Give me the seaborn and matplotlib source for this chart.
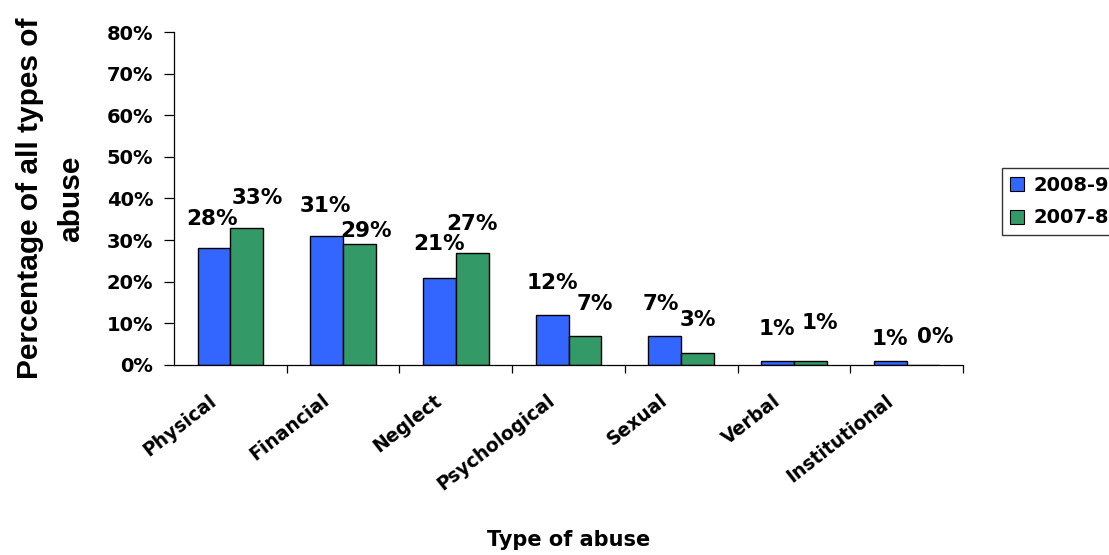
import matplotlib
matplotlib.use("Agg")
import matplotlib.pyplot as plt
import matplotlib.transforms as mtransforms
from matplotlib.ticker import PercentFormatter, FixedLocator
import numpy as np
import pandas as pd
import seaborn as sns

# Share of each abuse type, by reporting year
categories = ["Physical", "Financial", "Neglect", "Psychological", "Sexual", "Verbal", "Institutional"]
years = ["2008-9", "2007-8"]
pct_2008_9 = [28, 31, 21, 12, 7, 1, 1]
pct_2007_8 = [33, 29, 27, 7, 3, 1, 0]
y_ticks = [0, 10, 20, 30, 40, 50, 60, 70, 80]

# Nudges (pixels) for the value labels so neighbouring labels don't collide
label_nudge = {
    "2008-9": [(-2, 29), (-1, 30), (0, 34), (0, 32), (-4, 32), (-1, 32), (0, 22)],
    "2007-8": [(10, 30), (7, 13), (0, 29), (10, 32), (0, 33), (9, 38), (12, 28)],
}

df = pd.DataFrame({
    "Type of abuse": categories * 2,
    "Year": [years[0]] * len(categories) + [years[1]] * len(categories),
    "Percent": pct_2008_9 + pct_2007_8,
})

sns.set_theme(style="white")
plt.rcParams["font.family"] = ["DejaVu Sans"]
plt.rcParams["font.weight"] = "bold"
for key in ("text.color", "axes.labelcolor", "xtick.color", "ytick.color"):
    plt.rcParams[key] = "black"

fig = plt.figure(figsize=(11.09, 5.55), dpi=100)
ax = fig.add_axes([174 / 1109, 1 - 365 / 555, (963 - 174) / 1109, (365 - 32) / 555])

palette = {"2008-9": "#3366FF", "2007-8": "#339966"}
sns.barplot(data=df, x="Type of abuse", y="Percent", hue="Year", hue_order=years,
            palette=palette, width=0.582, edgecolor="black", linewidth=1.0,
            saturation=1, ax=ax)

# Value labels above each bar
for year, container in zip(years, ax.containers):
    vals = pct_2008_9 if year == "2008-9" else pct_2007_8
    for i, (patch, v) in enumerate(zip(container.patches, vals)):
        cx = patch.get_x() + patch.get_width() / 2
        dx, dy = label_nudge[year][i]
        ax.annotate(f"{v}%", xy=(cx, v), xytext=(dx, dy), textcoords="offset pixels",
                    ha="center", va="center", fontsize=15.5, fontweight="bold",
                    color="black", family="DejaVu Sans")

ax.set_ylim(0, 80)
ax.set_xlim(-0.5, len(categories) - 0.5)
ax.yaxis.set_major_locator(FixedLocator(y_ticks))
ax.yaxis.set_major_formatter(PercentFormatter(decimals=0))

for side in ("top", "right"):
    ax.spines[side].set_visible(False)
for side in ("left", "bottom"):
    ax.spines[side].set_color("black")
    ax.spines[side].set_linewidth(0.9)

ax.tick_params(axis="y", which="major", direction="out", length=7, width=0.9,
               color="black", pad=8, labelsize=14, left=True)
ax.tick_params(axis="x", which="major", length=0, pad=24, labelsize=13.5)
ax.xaxis.set_minor_locator(FixedLocator(np.arange(0.5, len(categories), 1.0)))
ax.tick_params(axis="x", which="minor", direction="out", length=6, width=0.9,
               color="black", bottom=True)
shift = mtransforms.ScaledTranslation(-16 / 100, 0, fig.dpi_scale_trans)
for lbl in ax.get_xticklabels():
    lbl.set_rotation(38)
    lbl.set_ha("right")
    lbl.set_va("center")
    lbl.set_rotation_mode("anchor")
    lbl.set_fontweight("bold")
    lbl.set_transform(lbl.get_transform() + shift)
for lbl in ax.get_yticklabels():
    lbl.set_fontweight("bold")

ax.set_ylabel("Percentage of all types of\nabuse", fontsize=21.5, fontweight="bold",
              family="Liberation Sans", multialignment="center", linespacing=1.6)
ax.yaxis.set_label_coords(-0.113, 0.5)
ax.set_xlabel("Type of abuse", fontsize=15, fontweight="bold")
ax.xaxis.set_label_coords(0.500, -0.495)

handles, labels = ax.get_legend_handles_labels()
ax.get_legend().remove()
leg = fig.legend(handles, labels, loc="upper left", bbox_to_anchor=(1002 / 1109, 1 - 168 / 555),
                 frameon=True, fancybox=False, shadow=False, borderaxespad=0,
                 prop={"size": 14, "weight": "bold", "family": "DejaVu Sans"},
                 handlelength=0.72, handleheight=0.72,
                 handletextpad=0.5, labelspacing=0.7, borderpad=0.4)
leg.get_frame().set_edgecolor("black")
leg.get_frame().set_linewidth(1.0)
for h in leg.legend_handles:
    h.set_edgecolor("black")
    h.set_linewidth(0.8)

fig.savefig("out.png", dpi=100)
